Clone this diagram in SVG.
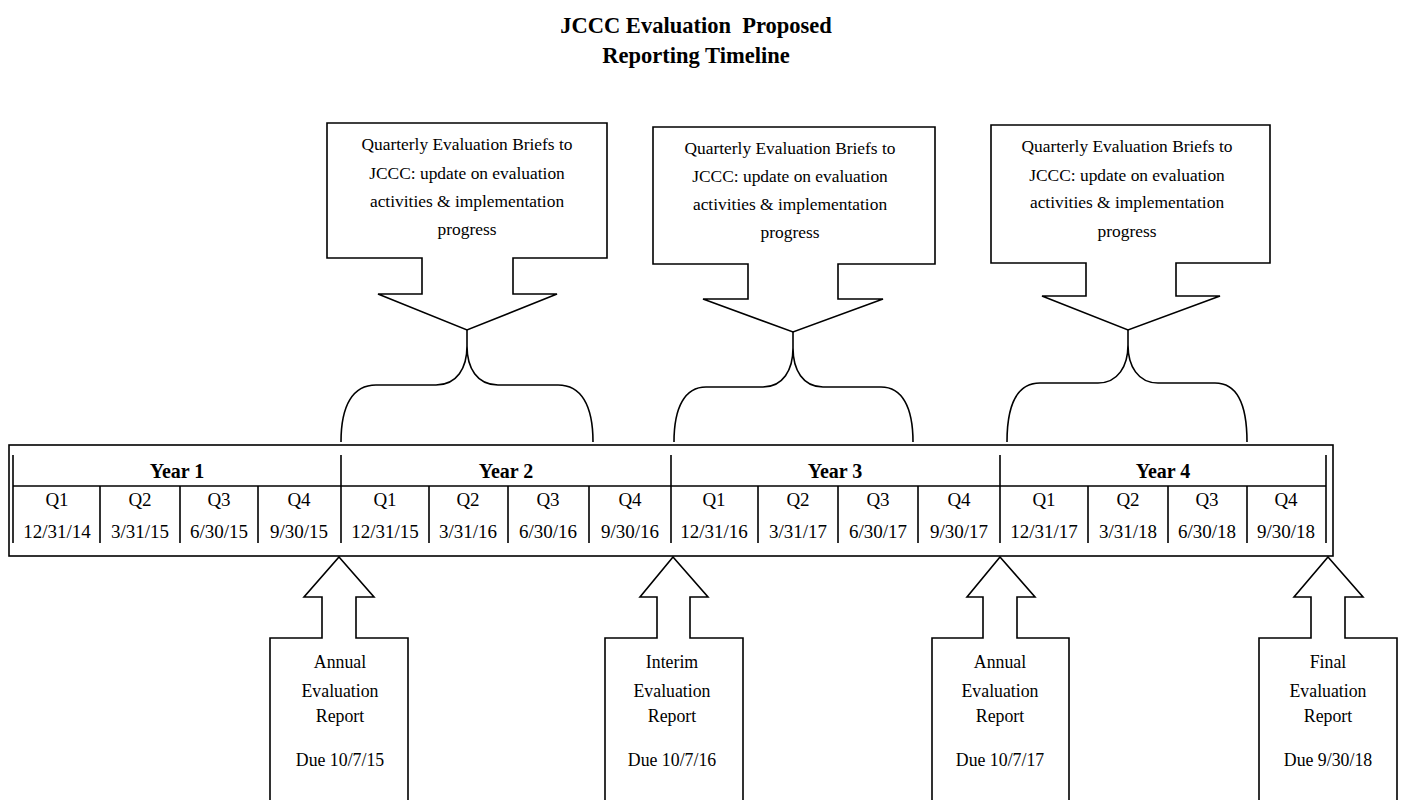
<svg xmlns="http://www.w3.org/2000/svg" width="1401" height="800" viewBox="0 0 1401 800">
<style>
.ln{fill:none;stroke:#000;stroke-width:1.6}
.sh{fill:#fff;stroke:#000;stroke-width:1.6;stroke-linejoin:miter}
.tt{font-family:"Liberation Serif","Times New Roman",serif;font-weight:bold;font-size:22.5px;text-anchor:middle;fill:#000}
.yr{font-family:"Liberation Serif","Times New Roman",serif;font-weight:bold;font-size:20px;text-anchor:middle;fill:#000}
.q{font-family:"Liberation Serif","Times New Roman",serif;font-size:19px;text-anchor:middle;fill:#000}
.cb{font-family:"Liberation Serif","Times New Roman",serif;font-size:17.4px;text-anchor:middle;fill:#000}
.bt{font-family:"Liberation Serif","Times New Roman",serif;font-size:17.8px;text-anchor:middle;fill:#000}
</style>
<rect width="1401" height="800" fill="#fff"/>

<g id="title">
<text class="tt" x="696" y="33" xml:space="preserve">JCCC Evaluation  Proposed</text>
<text class="tt" x="696" y="63">Reporting Timeline</text>
</g>

<g id="timeline">
<rect class="ln" x="9" y="445" width="1324" height="111"/>
<line class="ln" x1="13" y1="455" x2="13" y2="543"/>
<line class="ln" x1="1326" y1="455" x2="1326" y2="543"/>
<line class="ln" x1="13" y1="486" x2="1326" y2="486"/>
<line class="ln" x1="341" y1="455" x2="341" y2="543"/>
<line class="ln" x1="671" y1="455" x2="671" y2="543"/>
<line class="ln" x1="1000" y1="455" x2="1000" y2="543"/>
<line class="ln" x1="100" y1="486" x2="100" y2="543"/>
<line class="ln" x1="180" y1="486" x2="180" y2="543"/>
<line class="ln" x1="258" y1="486" x2="258" y2="543"/>
<line class="ln" x1="429" y1="486" x2="429" y2="543"/>
<line class="ln" x1="508" y1="486" x2="508" y2="543"/>
<line class="ln" x1="589" y1="486" x2="589" y2="543"/>
<line class="ln" x1="758" y1="486" x2="758" y2="543"/>
<line class="ln" x1="838" y1="486" x2="838" y2="543"/>
<line class="ln" x1="918" y1="486" x2="918" y2="543"/>
<line class="ln" x1="1088" y1="486" x2="1088" y2="543"/>
<line class="ln" x1="1168" y1="486" x2="1168" y2="543"/>
<line class="ln" x1="1247" y1="486" x2="1247" y2="543"/>
<text class="yr" x="177" y="478">Year 1</text>
<text class="yr" x="506" y="478">Year 2</text>
<text class="yr" x="835" y="478">Year 3</text>
<text class="yr" x="1163" y="478">Year 4</text>
<text class="q" x="57" y="506">Q1</text><text class="q" x="57" y="538">12/31/14</text>
<text class="q" x="140" y="506">Q2</text><text class="q" x="140" y="538">3/31/15</text>
<text class="q" x="219" y="506">Q3</text><text class="q" x="219" y="538">6/30/15</text>
<text class="q" x="299" y="506">Q4</text><text class="q" x="299" y="538">9/30/15</text>
<text class="q" x="385" y="506">Q1</text><text class="q" x="385" y="538">12/31/15</text>
<text class="q" x="468" y="506">Q2</text><text class="q" x="468" y="538">3/31/16</text>
<text class="q" x="548" y="506">Q3</text><text class="q" x="548" y="538">6/30/16</text>
<text class="q" x="630" y="506">Q4</text><text class="q" x="630" y="538">9/30/16</text>
<text class="q" x="714" y="506">Q1</text><text class="q" x="714" y="538">12/31/16</text>
<text class="q" x="798" y="506">Q2</text><text class="q" x="798" y="538">3/31/17</text>
<text class="q" x="878" y="506">Q3</text><text class="q" x="878" y="538">6/30/17</text>
<text class="q" x="959" y="506">Q4</text><text class="q" x="959" y="538">9/30/17</text>
<text class="q" x="1044" y="506">Q1</text><text class="q" x="1044" y="538">12/31/17</text>
<text class="q" x="1128" y="506">Q2</text><text class="q" x="1128" y="538">3/31/18</text>
<text class="q" x="1207" y="506">Q3</text><text class="q" x="1207" y="538">6/30/18</text>
<text class="q" x="1286" y="506">Q4</text><text class="q" x="1286" y="538">9/30/18</text>
</g>

<g id="connectors">
<path class="ln" d="M341,442 C341,405 353,385 376,385 H436 C457,385 467,368 467,346 V330 M467,346 C467,368 477,385 498,385 H558 C581,385 593,405 593,442"/>
<path class="ln" d="M674,442 C674,407 685,387 706,387 H763 C783,387 793,370 793,348 V332 M793,348 C793,370 803,387 823,387 H881 C902,387 913,407 913,442"/>
<path class="ln" d="M1007,442 C1007,403 1018,383 1040,383 H1098 C1118,383 1128,366 1128,345 V330 M1128,345 C1128,366 1138,383 1158,383 H1215 C1236,383 1247,403 1247,442"/>
</g>

<g id="brief1">
<path class="sh" d="M327,123 H607 V258 H513 V294 H557 L467,330 L378,294 H422 V258 H327 Z"/>
<text class="cb" x="467" y="150">Quarterly Evaluation Briefs to</text>
<text class="cb" x="467" y="179">JCCC: update on evaluation</text>
<text class="cb" x="467" y="207">activities &amp; implementation</text>
<text class="cb" x="467" y="235">progress</text>
</g>
<g id="brief2">
<path class="sh" d="M653,127 H935 V264 H838 V299 H883 L793,332 L703,299 H748 V264 H653 Z"/>
<text class="cb" x="790" y="154">Quarterly Evaluation Briefs to</text>
<text class="cb" x="790" y="182">JCCC: update on evaluation</text>
<text class="cb" x="790" y="210">activities &amp; implementation</text>
<text class="cb" x="790" y="238">progress</text>
</g>
<g id="brief3">
<path class="sh" d="M991,125 H1270 V263 H1176 V296 H1220 L1128,330 L1042,296 H1086 V263 H991 Z"/>
<text class="cb" x="1127" y="152">Quarterly Evaluation Briefs to</text>
<text class="cb" x="1127" y="181">JCCC: update on evaluation</text>
<text class="cb" x="1127" y="208">activities &amp; implementation</text>
<text class="cb" x="1127" y="237">progress</text>
</g>

<g id="report1">
<path class="sh" d="M339,557 L374,597 H356 V638 H408 V806 H270 V638 H322 V597 H304 Z"/>
<text class="bt" x="340" y="668">Annual</text>
<text class="bt" x="340" y="697">Evaluation</text>
<text class="bt" x="340" y="722">Report</text>
<text class="bt" x="340" y="766">Due 10/7/15</text>
</g>
<g id="report2">
<path class="sh" d="M673,557 L708,597 H690 V638 H743 V806 H605 V638 H657 V597 H640 Z"/>
<text class="bt" x="672" y="668">Interim</text>
<text class="bt" x="672" y="697">Evaluation</text>
<text class="bt" x="672" y="722">Report</text>
<text class="bt" x="672" y="766">Due 10/7/16</text>
</g>
<g id="report3">
<path class="sh" d="M1000,557 L1035,597 H1017 V638 H1069 V806 H932 V638 H983 V597 H967 Z"/>
<text class="bt" x="1000" y="668">Annual</text>
<text class="bt" x="1000" y="697">Evaluation</text>
<text class="bt" x="1000" y="722">Report</text>
<text class="bt" x="1000" y="766">Due 10/7/17</text>
</g>
<g id="report4">
<path class="sh" d="M1328,557 L1363,597 H1345 V638 H1397 V806 H1259 V638 H1311 V597 H1294 Z"/>
<text class="bt" x="1328" y="668">Final</text>
<text class="bt" x="1328" y="697">Evaluation</text>
<text class="bt" x="1328" y="722">Report</text>
<text class="bt" x="1328" y="766">Due 9/30/18</text>
</g>
</svg>
